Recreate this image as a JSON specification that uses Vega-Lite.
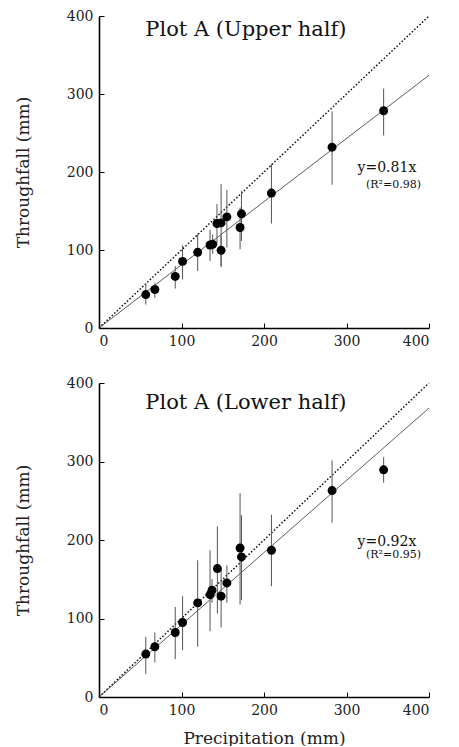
{
  "$schema": "https://vega.github.io/schema/vega-lite/v6.json",
  "padding": {"left": 14, "top": 9, "right": 10, "bottom": 0},
  "spacing": 28,
  "config": {
    "font": "DejaVu Serif",
    "view": {"stroke": null},
    "axis": {
      "domainColor": "black", "domainWidth": 1.6, "tickColor": "black", "tickSize": -5, "tickWidth": 1,
      "grid": false, "labelFont": "DejaVu Serif", "labelFontSize": 14, "labelColor": "#222", "labelPadding": 11,
      "titleFont": "DejaVu Serif", "titleFontSize": 17, "titleFontWeight": "normal", "titleColor": "#222"
    }
  },
  "datasets": {
    "upper": [
      {"x": 56.7, "y": 42.9, "lo": 30.0, "hi": 55.8},
      {"x": 67.7, "y": 49.4, "lo": 38.6, "hi": 57.9},
      {"x": 92.4, "y": 66.1, "lo": 50.6, "hi": 79.4},
      {"x": 101.3, "y": 85.4, "lo": 62.2, "hi": 106.0},
      {"x": 119.6, "y": 97.0, "lo": 73.0, "hi": 120.2},
      {"x": 134.6, "y": 106.4, "lo": 85.8, "hi": 125.8},
      {"x": 137.8, "y": 107.3, "lo": 95.0, "hi": 120.0},
      {"x": 143.0, "y": 133.9, "lo": 107.3, "hi": 158.8},
      {"x": 148.0, "y": 134.8, "lo": 79.4, "hi": 184.5},
      {"x": 148.0, "y": 99.6, "lo": 78.0, "hi": 118.0},
      {"x": 155.0, "y": 142.5, "lo": 103.0, "hi": 176.8},
      {"x": 171.0, "y": 128.8, "lo": 100.9, "hi": 154.5},
      {"x": 172.7, "y": 146.4, "lo": 111.6, "hi": 176.0},
      {"x": 209.0, "y": 173.0, "lo": 133.9, "hi": 210.3},
      {"x": 282.5, "y": 231.8, "lo": 183.7, "hi": 277.7},
      {"x": 345.0, "y": 278.5, "lo": 246.8, "hi": 306.9}
    ],
    "lower": [
      {"x": 56.7, "y": 54.7, "lo": 29.2, "hi": 76.7},
      {"x": 67.7, "y": 64.0, "lo": 44.1, "hi": 82.2},
      {"x": 92.4, "y": 82.2, "lo": 48.3, "hi": 114.8},
      {"x": 101.3, "y": 94.9, "lo": 59.7, "hi": 128.4},
      {"x": 119.6, "y": 119.9, "lo": 64.0, "hi": 174.2},
      {"x": 134.6, "y": 130.5, "lo": 83.9, "hi": 186.9},
      {"x": 137.0, "y": 136.0, "lo": 120.0, "hi": 150.0},
      {"x": 143.5, "y": 163.6, "lo": 106.4, "hi": 217.4},
      {"x": 148.0, "y": 128.4, "lo": 88.6, "hi": 162.7},
      {"x": 155.0, "y": 145.3, "lo": 120.0, "hi": 167.8},
      {"x": 171.0, "y": 189.8, "lo": 117.8, "hi": 259.7},
      {"x": 172.7, "y": 178.4, "lo": 123.3, "hi": 231.4},
      {"x": 209.0, "y": 186.9, "lo": 141.1, "hi": 232.2},
      {"x": 282.5, "y": 263.0, "lo": 222.0, "hi": 301.3},
      {"x": 345.0, "y": 289.4, "lo": 272.9, "hi": 305.5}
    ],
    "oneToOne": [{"x": 0, "y": 0}, {"x": 400, "y": 400}],
    "fitUpper": [{"x": 0, "y": 0}, {"x": 400, "y": 324}],
    "fitLower": [{"x": 0, "y": 0}, {"x": 400, "y": 368}],
    "textUpper": [
      {"x": 178, "y": 382, "label": "Plot A (Upper half)", "kind": "title"},
      {"x": 349, "y": 205, "label": "y=0.81x", "kind": "eq"},
      {"x": 357, "y": 183, "label": "(R²=0.98)", "kind": "r2"}
    ],
    "textLower": [
      {"x": 178, "y": 375, "label": "Plot A (Lower half)", "kind": "title"},
      {"x": 349, "y": 197, "label": "y=0.92x", "kind": "eq"},
      {"x": 357, "y": 181, "label": "(R²=0.95)", "kind": "r2"}
    ]
  },
  "vconcat": [
    {
      "width": 330, "height": 312,
      "layer": [
        {"data": {"name": "oneToOne"}, "mark": {"type": "line", "color": "black", "strokeWidth": 1.4, "strokeDash": [1.5, 2]},
         "encoding": {"x": {"field": "x", "type": "quantitative", "scale": {"domain": [0, 400]}, "axis": {"values": [0, 100, 200, 300, 400], "title": null}},
                      "y": {"field": "y", "type": "quantitative", "scale": {"domain": [0, 400]}, "axis": {"values": [0, 100, 200, 300, 400], "title": "Throughfall (mm)", "titlePadding": 34}}}},
        {"data": {"name": "fitUpper"}, "mark": {"type": "line", "color": "#333", "strokeWidth": 0.8},
         "encoding": {"x": {"field": "x", "type": "quantitative"}, "y": {"field": "y", "type": "quantitative"}}},
        {"data": {"name": "upper"}, "mark": {"type": "rule", "color": "#555", "strokeWidth": 1},
         "encoding": {"x": {"field": "x", "type": "quantitative"}, "y": {"field": "lo", "type": "quantitative"}, "y2": {"field": "hi"}}},
        {"data": {"name": "upper"}, "mark": {"type": "circle", "color": "black", "opacity": 1, "size": 80},
         "encoding": {"x": {"field": "x", "type": "quantitative"}, "y": {"field": "y", "type": "quantitative"}}},
        {"data": {"name": "textUpper"}, "transform": [{"filter": "datum.kind == 'title'"}], "mark": {"type": "text", "fontSize": 21, "color": "#111"},
         "encoding": {"x": {"field": "x", "type": "quantitative"}, "y": {"field": "y", "type": "quantitative"}, "text": {"field": "label"}}},
        {"data": {"name": "textUpper"}, "transform": [{"filter": "datum.kind == 'eq'"}], "mark": {"type": "text", "fontSize": 14, "color": "#111"},
         "encoding": {"x": {"field": "x", "type": "quantitative"}, "y": {"field": "y", "type": "quantitative"}, "text": {"field": "label"}}},
        {"data": {"name": "textUpper"}, "transform": [{"filter": "datum.kind == 'r2'"}], "mark": {"type": "text", "fontSize": 11, "color": "#111"},
         "encoding": {"x": {"field": "x", "type": "quantitative"}, "y": {"field": "y", "type": "quantitative"}, "text": {"field": "label"}}}
      ]
    },
    {
      "width": 330, "height": 314,
      "layer": [
        {"data": {"name": "oneToOne"}, "mark": {"type": "line", "color": "black", "strokeWidth": 1.4, "strokeDash": [1.5, 2]},
         "encoding": {"x": {"field": "x", "type": "quantitative", "scale": {"domain": [0, 400]}, "axis": {"values": [0, 100, 200, 300, 400], "title": "Precipitation (mm)", "titlePadding": 13}},
                      "y": {"field": "y", "type": "quantitative", "scale": {"domain": [0, 400]}, "axis": {"values": [0, 100, 200, 300, 400], "title": "Throughfall (mm)", "titlePadding": 34}}}},
        {"data": {"name": "fitLower"}, "mark": {"type": "line", "color": "#333", "strokeWidth": 0.8},
         "encoding": {"x": {"field": "x", "type": "quantitative"}, "y": {"field": "y", "type": "quantitative"}}},
        {"data": {"name": "lower"}, "mark": {"type": "rule", "color": "#555", "strokeWidth": 1},
         "encoding": {"x": {"field": "x", "type": "quantitative"}, "y": {"field": "lo", "type": "quantitative"}, "y2": {"field": "hi"}}},
        {"data": {"name": "lower"}, "mark": {"type": "circle", "color": "black", "opacity": 1, "size": 80},
         "encoding": {"x": {"field": "x", "type": "quantitative"}, "y": {"field": "y", "type": "quantitative"}}},
        {"data": {"name": "textLower"}, "transform": [{"filter": "datum.kind == 'title'"}], "mark": {"type": "text", "fontSize": 21, "color": "#111"},
         "encoding": {"x": {"field": "x", "type": "quantitative"}, "y": {"field": "y", "type": "quantitative"}, "text": {"field": "label"}}},
        {"data": {"name": "textLower"}, "transform": [{"filter": "datum.kind == 'eq'"}], "mark": {"type": "text", "fontSize": 14, "color": "#111"},
         "encoding": {"x": {"field": "x", "type": "quantitative"}, "y": {"field": "y", "type": "quantitative"}, "text": {"field": "label"}}},
        {"data": {"name": "textLower"}, "transform": [{"filter": "datum.kind == 'r2'"}], "mark": {"type": "text", "fontSize": 11, "color": "#111"},
         "encoding": {"x": {"field": "x", "type": "quantitative"}, "y": {"field": "y", "type": "quantitative"}, "text": {"field": "label"}}}
      ]
    }
  ]
}
